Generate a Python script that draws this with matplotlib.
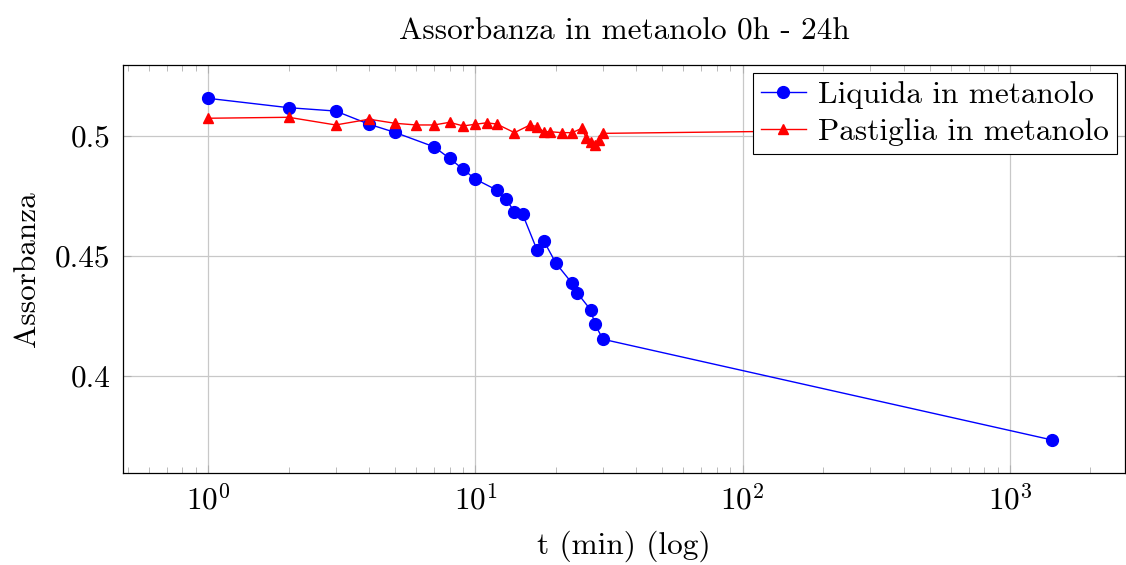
import matplotlib
matplotlib.use('Agg')
import matplotlib.pyplot as plt
import numpy as np

plt.rcParams['font.family'] = 'serif'
plt.rcParams['font.serif'] = ['cmr10', 'DejaVu Serif']
plt.rcParams['mathtext.fontset'] = 'cm'
plt.rcParams['axes.formatter.use_mathtext'] = True

# Data
t_liquida = [1, 2, 3, 4, 5, 7, 8, 9, 10, 12, 13, 14, 15, 17, 18, 20, 23, 24, 27, 28, 30, 1440]
a_liquida = [0.5157, 0.5118, 0.5104, 0.5049, 0.5015, 0.4955, 0.4907, 0.4861, 0.4820, 0.4775,
             0.4736, 0.4685, 0.4675, 0.4525, 0.4564, 0.4470, 0.4386, 0.4347, 0.4275, 0.4215,
             0.4153, 0.3733]

t_pastiglia = [1, 2, 3, 4, 5, 6, 7, 8, 9, 10, 11, 12, 14, 16, 17, 18, 19, 21, 23, 25, 26, 27,
               28, 29, 30, 1440]
a_pastiglia = [0.5074, 0.5078, 0.5046, 0.5070, 0.5053, 0.5046, 0.5046, 0.5057, 0.5042, 0.5049,
               0.5055, 0.5050, 0.5014, 0.5046, 0.5039, 0.5018, 0.5018, 0.5014, 0.5014, 0.5032,
               0.4990, 0.4976, 0.4962, 0.4983, 0.5011, 0.5033]

yticks = [0.4, 0.45, 0.5]
ytick_labels = ['0.4', '0.45', '0.5']
xticks = [1, 10, 100, 1000]
xtick_labels = [r'$10^{0}$', r'$10^{1}$', r'$10^{2}$', r'$10^{3}$']

FS = 22.5

fig = plt.figure(figsize=(11.26, 5.65), dpi=100)
ax = fig.add_axes([0.1092, 0.163, 0.8898, 0.722])

ax.plot(t_liquida, a_liquida, color='blue', lw=1.0, marker='o', markersize=8.5,
        label='Liquida in metanolo', zorder=3)
ax.plot(t_pastiglia, a_pastiglia, color='red', lw=1.0, marker='^', markersize=7.5,
        label='Pastiglia in metanolo', zorder=3)

ax.set_xscale('log')
ax.set_xlim(0.48, 2690)
ax.set_ylim(0.3596, 0.5296)
ax.set_yticks(yticks)
ax.set_yticklabels(ytick_labels)
ax.set_xticks(xticks)
ax.set_xticklabels(xtick_labels)

ax.grid(True, which='major', color='#c8c8c8', lw=0.9)
ax.tick_params(which='both', direction='in', top=True, right=True, labelsize=FS,
               color='#b0b0b0')
ax.tick_params(which='major', length=6, width=0.8, pad=9)
ax.tick_params(which='minor', length=4, width=0.6)
ax.tick_params(axis='y', which='minor', left=False, right=False)
for sp in ax.spines.values():
    sp.set_linewidth(0.9)

ax.set_title('Assorbanza in metanolo 0h - 24h', fontsize=FS, pad=18)
ax.set_xlabel('t (min) (log)', fontsize=FS, labelpad=10)
ax.set_ylabel('Assorbanza', fontsize=FS, labelpad=10)

leg = ax.legend(loc='upper right', fontsize=FS, frameon=True, fancybox=False,
                edgecolor='black', framealpha=1, handlelength=1.45, borderpad=0.25,
                labelspacing=0.3, handletextpad=0.4, borderaxespad=0.25)
leg.get_frame().set_linewidth(0.8)

fig.savefig('out.png', dpi=100)
plt.close(fig)
